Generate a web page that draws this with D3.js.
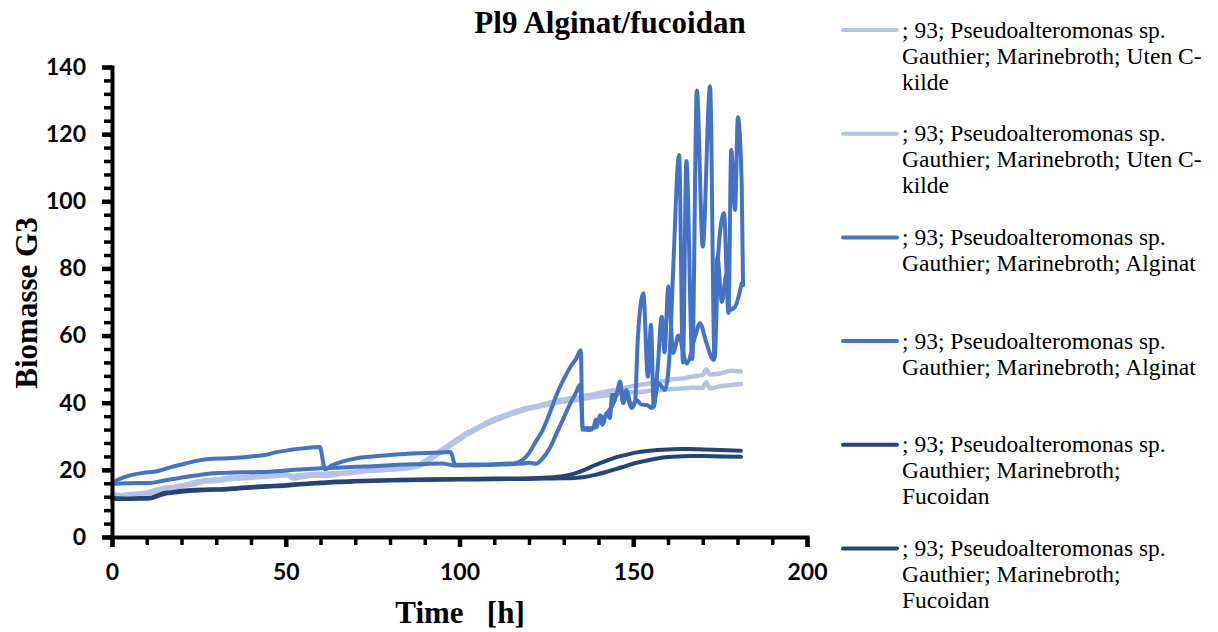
<!DOCTYPE html>
<html>
<head>
<meta charset="utf-8">
<script src="https://cdn.jsdelivr.net/npm/d3@7"></script>
<style>
body { margin: 0; background: #fff; }
svg { display: block; }
</style>
</head>
<body>
<script>

//size of the picture
var w = 1218;
var h = 632;

// light series (Uten C-kilde) share one time grid
var timeUten = [0, 3, 6, 9, 12, 15, 18, 21, 24, 27, 30, 34, 38, 42, 46, 49, 50.5, 52, 55, 58, 62, 66, 70, 74, 78, 82, 85, 88, 90, 92, 94, 96, 98, 100, 102, 104, 107, 110, 113, 116, 119, 122, 125, 128, 131, 134, 137, 140, 143, 146, 149, 152, 155, 158, 161, 164, 167, 170, 171, 172, 175, 178, 181];
var uten1 = [12.8, 12.5, 12.9, 13.1, 13.9, 14.7, 15.0, 15.6, 16.4, 16.9, 17.1, 17.7, 17.9, 18.3, 18.6, 19.1, 18.8, 17.4, 17.9, 18.3, 18.2, 18.8, 19.2, 19.7, 19.9, 20.3, 20.6, 21.4, 22.6, 24.0, 25.4, 26.8, 28.2, 29.6, 31.0, 32.0, 33.6, 35.2, 36.2, 37.4, 38.4, 39.0, 39.8, 40.6, 41.2, 41.6, 42.2, 42.8, 43.5, 44.0, 44.8, 45.3, 45.7, 46.3, 46.9, 47.2, 47.8, 48.2, 50.0, 48.4, 48.7, 49.5, 49.3];
var uten2 = [12.3, 12.2, 12.4, 12.6, 13.4, 14.2, 14.7, 15.3, 15.8, 16.5, 16.7, 17.2, 17.5, 17.8, 18.1, 18.3, 18.4, 18.2, 18.5, 18.7, 18.9, 19.1, 19.5, 19.9, 20.1, 20.2, 20.5, 21.0, 21.9, 23.3, 24.8, 26.2, 27.6, 29.0, 30.4, 31.6, 33.2, 34.6, 35.8, 36.9, 37.9, 38.6, 39.3, 40.0, 40.5, 40.8, 41.4, 41.9, 42.3, 42.6, 43.1, 43.2, 43.6, 43.8, 44.1, 44.2, 44.5, 44.4, 46.1, 44.3, 44.9, 45.3, 45.6];

// alginat series, each with its own times
var timeAlg1 = [0, 2, 5, 9, 13, 16, 20, 24, 28, 32, 36, 40, 44, 47, 51, 55, 59.8, 61.3, 63, 66, 70, 75, 80, 85, 90, 95, 97.5, 98.7, 100, 105, 110, 114, 116, 118, 120, 122, 124, 126, 128, 130, 132, 133.5, 134.9, 135.4, 137.6, 138.5, 139.2, 140.4, 141.2, 142.3, 143.3, 143.9, 145.2, 146.2, 147.1, 148, 149.5, 150.5, 151.3, 152.9, 154.2, 155.1, 155.9, 157, 158.2, 159, 160.1, 161.5, 163, 165.4, 167.8, 169.2, 171, 173.2, 174.2, 175.5, 176.9, 177.8, 179.3, 181.2];
var alginat1 = [16.1, 17.2, 18.3, 19.1, 19.6, 20.5, 21.6, 22.6, 23.2, 23.4, 23.6, 24.0, 24.4, 25.2, 25.9, 26.4, 26.8, 20.2, 21.2, 22.4, 23.4, 24.0, 24.4, 24.8, 25.0, 25.2, 25.3, 21.6, 21.5, 21.6, 21.7, 21.9, 22.0, 22.8, 25.0, 28.5, 32.0, 37.0, 42.5, 47.0, 50.8, 53.0, 55.6, 32.0, 31.9, 32.4, 34.9, 34.9, 33.4, 36.8, 35.4, 42.3, 42.3, 45.9, 39.9, 42.3, 38.4, 40.0, 58.7, 72.6, 47.7, 63.2, 38.8, 50.0, 65.6, 55.0, 74.6, 54.8, 60.0, 51.7, 59.7, 63.7, 58.0, 52.7, 83.5, 70.0, 78.5, 67.6, 68.6, 75.6];

var timeAlg2 = [0, 4, 8, 11, 14, 17, 20, 24, 29, 35, 40, 45, 50, 55, 60, 65, 70, 75, 80, 88, 95, 98, 100, 105, 110, 115, 118, 120, 122, 124, 126, 128, 130, 132, 133.5, 134.7, 135.5, 137.6, 139.5, 140.4, 141.3, 142.5, 143.8, 145.2, 146.2, 147.1, 148, 149.5, 151, 152.2, 154, 155.3, 156.3, 157.2, 159.1, 160.5, 161.5, 163.2, 164.3, 165.3, 167, 168.3, 170, 172.1, 173.4, 174.5, 176.1, 177.4, 178.2, 179.3, 180.1, 181.2, 181.6];
var alginat2 = [15.8, 16.0, 16.1, 16.1, 16.6, 17.2, 17.7, 18.3, 19.0, 19.2, 19.3, 19.4, 19.8, 20.2, 20.5, 20.6, 20.9, 21.1, 21.4, 21.7, 21.9, 21.4, 21.3, 21.4, 21.5, 21.7, 21.9, 22.1, 21.8, 23.5, 26.5, 31.0, 35.5, 40.0, 43.0, 45.3, 32.4, 32.4, 32.8, 36.3, 35.4, 37.0, 38.8, 42.3, 46.3, 40.0, 43.8, 39.0, 40.8, 39.5, 39.3, 38.4, 41.4, 45.9, 43.8, 55.0, 80.0, 113.8, 52.0, 112.0, 53.0, 133.0, 86.5, 134.3, 53.0, 85.0, 96.5, 66.7, 115.3, 97.4, 125.0, 105.5, 75.0];

// fucoidan series share one time grid
var timeFuc = [0, 4, 8, 11, 13, 15, 17, 20, 24, 28, 32, 36, 40, 45, 50, 55, 60, 65, 70, 80, 90, 100, 110, 120, 125, 130, 133, 136, 139, 142, 145, 148, 151, 154, 157, 160, 163, 166, 170, 175, 181];
var fucoidan1 = [11.6, 11.5, 11.6, 11.7, 12.4, 13.1, 13.3, 13.8, 14.1, 14.2, 14.3, 14.6, 14.9, 15.2, 15.5, 15.9, 16.2, 16.5, 16.7, 17.0, 17.2, 17.3, 17.4, 17.5, 17.7, 18.2, 18.9, 20.0, 21.4, 22.6, 23.7, 24.5, 25.2, 25.6, 25.9, 26.1, 26.2, 26.2, 26.1, 25.9, 25.7];
var fucoidan2 = [11.4, 11.3, 11.4, 11.5, 12.1, 12.8, 13.1, 13.5, 13.8, 14.0, 14.1, 14.4, 14.7, 15.0, 15.3, 15.7, 16.0, 16.3, 16.5, 16.8, 17.0, 17.1, 17.2, 17.3, 17.4, 17.5, 17.6, 17.9, 18.5, 19.3, 20.2, 21.2, 22.1, 22.8, 23.4, 23.8, 24.0, 24.1, 24.1, 24.0, 23.9];

// axis ticks
var xMajor = [0, 50, 100, 150, 200];
var yMajor = [0, 20, 40, 60, 80, 100, 120, 140];

// legend text, already broken into lines like the original
var legendLines = [
	["; 93; Pseudoalteromonas sp.", "Gauthier; Marinebroth; Uten C-", "kilde"],
	["; 93; Pseudoalteromonas sp.", "Gauthier; Marinebroth; Uten C-", "kilde"],
	["; 93; Pseudoalteromonas sp.", "Gauthier; Marinebroth; Alginat"],
	["; 93; Pseudoalteromonas sp.", "Gauthier; Marinebroth; Alginat"],
	["; 93; Pseudoalteromonas sp.", "Gauthier; Marinebroth;", "Fucoidan"],
	["; 93; Pseudoalteromonas sp.", "Gauthier; Marinebroth;", "Fucoidan"]
];

var light = "#b4c3e3", mid = "#4472c4", dark = "#264478";

var series = [
	{ t: timeUten, v: uten1, color: light },
	{ t: timeUten, v: uten2, color: light },
	{ t: timeAlg1, v: alginat1, color: mid },
	{ t: timeAlg2, v: alginat2, color: mid },
	{ t: timeFuc, v: fucoidan1, color: dark },
	{ t: timeFuc, v: fucoidan2, color: dark }
];

var svg = d3.select("body")
	.append("svg")
	.attr("width", w)
	.attr("height", h);

svg.append("rect").attr("width", w).attr("height", h).attr("fill", "#fff");

var x = d3.scaleLinear().domain([0, 200]).range([112, 807]);
var y = d3.scaleLinear().domain([0, 140]).range([537, 67]);

/*
 * lines first, axes on top like excel does it
 */
var line = d3.line()
	.x(function(d) { return x(d[0]); })
	.y(function(d) { return y(d[1]); })
	.curve(d3.curveMonotoneX);

series.forEach(function(s) {
	var pts = s.t.map(function(t, i) { return [t, s.v[i]]; });
	svg.append("path")
		.attr("d", line(pts))
		.attr("fill", "none")
		.attr("stroke", s.color)
		.attr("stroke-width", s.color == light ? 4.5 : 4)
		.attr("stroke-linejoin", "round")
		.attr("stroke-linecap", "round");
});

// minor ticks (no labels)
svg.append("g")
	.attr("transform", "translate(0,537)")
	.call(d3.axisBottom(x).tickValues(d3.range(0, 201, 10)).tickSize(8).tickFormat(""))
	.call(function(g) { g.select(".domain").remove(); g.selectAll("line").attr("stroke", "#000").attr("stroke-width", 3.5); });

svg.append("g")
	.attr("transform", "translate(112,0)")
	.call(d3.axisLeft(y).tickValues(d3.range(0, 141, 4)).tickSize(8).tickFormat(""))
	.call(function(g) { g.select(".domain").remove(); g.selectAll("line").attr("stroke", "#000").attr("stroke-width", 3.5); });

// major ticks + labels
var xAxis = svg.append("g")
	.attr("transform", "translate(0,537)")
	.call(d3.axisBottom(x).tickValues(xMajor).tickSize(10).tickSizeOuter(0).tickPadding(17));

var yAxis = svg.append("g")
	.attr("transform", "translate(112,0)")
	.call(d3.axisLeft(y).tickValues(yMajor).tickSize(10).tickSizeOuter(0).tickPadding(16));

[xAxis, yAxis].forEach(function(g) {
	g.select(".domain").attr("stroke", "#000").attr("stroke-width", 4).attr("stroke-linecap", "square");
	g.selectAll(".tick line").attr("stroke", "#000").attr("stroke-width", 4.5);
	g.selectAll(".tick text")
		.attr("fill", "#000")
		.style("font-family", "Lato, 'Liberation Sans', sans-serif")
		.style("font-weight", "bold")
		.style("font-size", "23px");
});

// title and axis titles
svg.append("text")
	.attr("x", 610)
	.attr("y", 33)
	.attr("text-anchor", "middle")
	.style("font-family", "'Liberation Serif', 'Times New Roman', serif")
	.style("font-weight", "bold")
	.style("font-size", "31px")
	.text("Pl9 Alginat/fucoidan");

svg.append("text")
	.attr("transform", "translate(37,303) rotate(-90)")
	.attr("text-anchor", "middle")
	.style("font-family", "'Liberation Serif', 'Times New Roman', serif")
	.style("font-weight", "bold")
	.style("font-size", "31px")
	.text("Biomasse G3");

svg.append("text")
	.attr("x", 460)
	.attr("y", 623)
	.attr("text-anchor", "middle")
	.style("white-space", "pre")
	.style("font-family", "'Liberation Serif', 'Times New Roman', serif")
	.style("font-weight", "bold")
	.style("font-size", "31px")
	.text("Time   [h]");

// legend
var leg = svg.append("g");
legendLines.forEach(function(lines, i) {
	var ly = 30 + i * 103.7;
	leg.append("line")
		.attr("x1", 843).attr("x2", 897)
		.attr("y1", ly).attr("y2", ly)
		.attr("stroke", series[i].color)
		.attr("stroke-width", 4)
		.attr("stroke-linecap", "round");
	var txt = leg.append("text")
		.attr("x", 902)
		.attr("y", ly + 7.5)
		.style("font-family", "'Liberation Serif', 'Times New Roman', serif")
		.style("font-size", "23.5px");
	lines.forEach(function(l, j) {
		txt.append("tspan")
			.attr("x", 902)
			.attr("dy", j == 0 ? 0 : 26)
			.text(l);
	});
});

</script>
</body>
</html>
